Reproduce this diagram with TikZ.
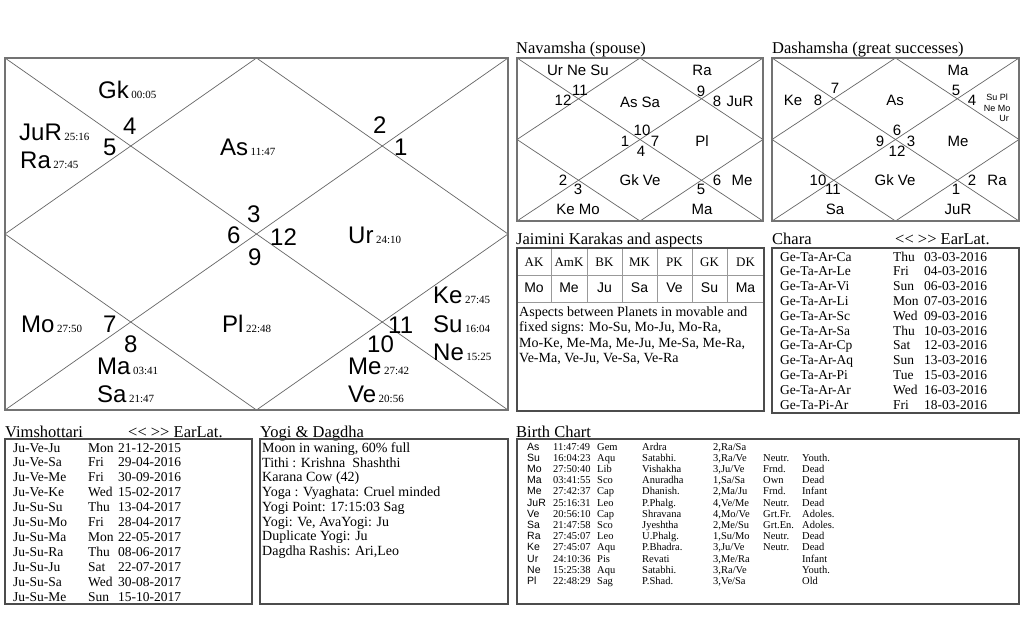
\documentclass[tikz,border=0pt]{standalone}
\usepackage{fontspec}
\setmainfont{Liberation Serif}
\newfontfamily\arial{Liberation Sans}
\newcommand{\fsz}[1]{\fontsize{#1}{#1}\selectfont}
\newcommand{\dgr}[1]{\hspace{2.5pt}{\rmfamily\fsz{11}#1}}
\newcommand{\vrow}[3]{\makebox[75pt][l]{#1}\makebox[30pt][l]{#2}#3}
\newcommand{\crow}[3]{\makebox[113pt][l]{#1}\makebox[31pt][l]{#2}#3}
\newcommand{\brow}[7]{\makebox[26pt][l]{\arial #1}\makebox[44pt][l]{#2}\makebox[45pt][l]{#3}\makebox[71pt][l]{#4}\makebox[50pt][l]{#5}\makebox[39pt][l]{#6}#7}

\begin{document}
\begin{tikzpicture}[x=1pt,y=-1pt,
  chline/.style={black!60,line width=.7pt},
  frame/.style={draw=black!55,line width=2pt},
  box/.style={draw=black!70,line width=1.1pt},
  cell/.style={draw=black!40,line width=.8pt},
  big/.style={font=\arial\fsz{24},inner sep=0pt,anchor=base west},
  lbl/.style={font=\arial\fsz{15},inner sep=0pt},
  tiny/.style={font=\arial\fsz{9},inner sep=0pt},
  title/.style={font=\fsz{16.5},inner sep=0pt,anchor=base west},
  txt/.style={font=\fsz{13.5},inner sep=0pt,anchor=base west},
  yogi/.style={font=\fsz{14},inner sep=0pt,anchor=base west},
  small/.style={font=\fsz{10.5},inner sep=0pt,anchor=base west}]
\fill[white] (0,0) rectangle (1024,640);
\useasboundingbox (0,0) rectangle (1024,640);
% Rasi chart
\draw[chline] (5,58) -- (508,410);
\draw[chline] (5,410) -- (508,58);
\draw[chline] (256.5,58) -- (508,234) -- (256.5,410) -- (5,234) -- cycle;
\draw[frame] (5,58) rectangle (508,410);
\node[big] (gk) at (98,98) {Gk\dgr{00:05}};
\node[big] (h4) at (123,134) {4};
\node[big] (jur) at (19,140) {JuR\dgr{25:16}};
\node[big] (h5) at (103,155) {5};
\node[big] (ra) at (20,168) {Ra\dgr{27:45}};
\node[big] (as) at (220,155) {As\dgr{11:47}};
\node[big] (h2) at (373,133) {2};
\node[big] (h1) at (394,155) {1};
\node[big] (h3) at (247,222) {3};
\node[big] (h6) at (227,243) {6};
\node[big] (h12) at (270,245) {12};
\node[big] (h9) at (248,265) {9};
\node[big] (ur) at (348,243) {Ur\dgr{24:10}};
\node[big] (mo) at (21,332) {Mo\dgr{27:50}};
\node[big] (h7) at (103,332) {7};
\node[big] (pl) at (222,332) {Pl\dgr{22:48}};
\node[big] (h11) at (388,333) {11};
\node[big] (h8) at (124,352) {8};
\node[big] (h10) at (367,352) {10};
\node[big] (ke) at (433,303) {Ke\dgr{27:45}};
\node[big] (su) at (433,332) {Su\dgr{16:04}};
\node[big] (ne) at (433,360) {Ne\dgr{15:25}};
\node[big] (ma) at (97,374) {Ma\dgr{03:41}};
\node[big] (sa) at (97,402) {Sa\dgr{21:47}};
\node[big] (me) at (348,374) {Me\dgr{27:42}};
\node[big] (ve) at (348,402) {Ve\dgr{20:56}};
% Navamsha
\node[title] (navt) at (516,53) {Navamsha (spouse)};
\draw[chline] (517,58) -- (763,221);
\draw[chline] (517,221) -- (763,58);
\draw[chline] (640,58) -- (763,139.5) -- (640,221) -- (517,139.5) -- cycle;
\draw[frame] (517,58) rectangle (763,221);
\node[lbl] (n-urnesu) at (578,70) {Ur Ne Su};
\node[lbl] (n-ra) at (702,70) {Ra};
\node[lbl] (n11) at (580,90) {11};
\node[lbl] (n12) at (563,100) {12};
\node[lbl] (n-assa) at (640,102) {As Sa};
\node[lbl] (n9) at (701,91) {9};
\node[lbl] (n8) at (717,101) {8};
\node[lbl] (n-jur) at (740,101) {JuR};
\node[lbl] (n10) at (642,130) {10};
\node[lbl] (n1) at (625,141) {1};
\node[lbl] (n7) at (655,141) {7};
\node[lbl] (n4) at (641,151) {4};
\node[lbl] (n-pl) at (702,141) {Pl};
\node[lbl] (n2) at (563,180) {2};
\node[lbl] (n3) at (578,189) {3};
\node[lbl] (n-gkve) at (640,180) {Gk Ve};
\node[lbl] (n6) at (717,180) {6};
\node[lbl] (n-me) at (742,180) {Me};
\node[lbl] (n5) at (701,189) {5};
\node[lbl] (n-kemo) at (578,209) {Ke Mo};
\node[lbl] (n-ma) at (702,209) {Ma};
% Dashamsha
\node[title] (dast) at (772,53) {Dashamsha (great successes)};
\draw[chline] (772,58) -- (1019,221);
\draw[chline] (772,221) -- (1019,58);
\draw[chline] (895.5,58) -- (1019,139.5) -- (895.5,221) -- (772,139.5) -- cycle;
\draw[frame] (772,58) rectangle (1019,221);
\node[lbl] (d-ma) at (958,70) {Ma};
\node[lbl] (d7) at (835,88) {7};
\node[lbl] (d-ke) at (793,100) {Ke};
\node[lbl] (d8) at (818,100) {8};
\node[lbl] (d-as) at (895,100) {As};
\node[lbl] (d5) at (956,90) {5};
\node[lbl] (d4) at (972,100) {4};
\node[tiny] (d-supl) at (997,97) {Su Pl};
\node[tiny] (d-nemo) at (997,108) {Ne Mo};
\node[tiny] (d-ur) at (1004,118) {Ur};
\node[lbl] (d6) at (897,130) {6};
\node[lbl] (d9) at (880,141) {9};
\node[lbl] (d3) at (911,141) {3};
\node[lbl] (d12) at (897,151) {12};
\node[lbl] (d-me) at (958,141) {Me};
\node[lbl] (d10) at (818,180) {10};
\node[lbl] (d11) at (833,189) {11};
\node[lbl] (d-gkve) at (895,180) {Gk Ve};
\node[lbl] (d2) at (972,180) {2};
\node[lbl] (d-ra) at (997,180) {Ra};
\node[lbl] (d1) at (956,189) {1};
\node[lbl] (d-sa) at (835,209) {Sa};
\node[lbl] (d-jur) at (958,209) {JuR};
% Jaimini karakas
\node[title] (jait) at (516,244) {Jaimini Karakas and aspects};
\draw[cell] (517,275) -- (764,275);
\draw[cell] (517,302) -- (764,302);
\draw[cell] (551,248) -- (551,302);
\draw[cell] (587,248) -- (587,302);
\draw[cell] (622,248) -- (622,302);
\draw[cell] (657,248) -- (657,302);
\draw[cell] (692,248) -- (692,302);
\draw[cell] (727,248) -- (727,302);
\draw[box] (517,248) rectangle (764,411);
\node[font=\fsz{13}] (k-ak) at (534,262) {AK};
\node[font=\fsz{13}] (k-amk) at (569,262) {AmK};
\node[font=\fsz{13}] (k-bk) at (604.5,262) {BK};
\node[font=\fsz{13}] (k-mk) at (639.5,262) {MK};
\node[font=\fsz{13}] (k-pk) at (674.5,262) {PK};
\node[font=\fsz{13}] (k-gk) at (709.5,262) {GK};
\node[font=\fsz{13}] (k-dk) at (745.5,262) {DK};
\node[font=\arial\fsz{14}] (v-ak) at (534,288) {Mo};
\node[font=\arial\fsz{14}] (v-amk) at (569,288) {Me};
\node[font=\arial\fsz{14}] (v-bk) at (604.5,288) {Ju};
\node[font=\arial\fsz{14}] (v-mk) at (639.5,288) {Sa};
\node[font=\arial\fsz{14}] (v-pk) at (674.5,288) {Ve};
\node[font=\arial\fsz{14}] (v-gk) at (709.5,288) {Su};
\node[font=\arial\fsz{14}] (v-dk) at (745.5,288) {Ma};
\node[yogi] (asp1) at (519,316) {Aspects between Planets in movable and};
\node[yogi] (asp2) at (519,331.5) {fixed signs: Mo-Su, Mo-Ju, Mo-Ra,};
\node[yogi] (asp3) at (519,347) {Mo-Ke, Me-Ma, Me-Ju, Me-Sa, Me-Ra,};
\node[yogi] (asp4) at (519,362.5) {Ve-Ma, Ve-Ju, Ve-Sa, Ve-Ra};
% Chara
\node[title] (chat) at (772,244) {Chara};
\node[title] (chanav) at (895,244) {<{}< >{}> EarLat.};
\draw[box] (772,248) rectangle (1019,413);
\node[txt] (c1) at (780,261) {\crow{Ge-Ta-Ar-Ca}{Thu}{03-03-2016}};
\node[txt] (c2) at (780,275.8) {\crow{Ge-Ta-Ar-Le}{Fri}{04-03-2016}};
\node[txt] (c3) at (780,290.6) {\crow{Ge-Ta-Ar-Vi}{Sun}{06-03-2016}};
\node[txt] (c4) at (780,305.4) {\crow{Ge-Ta-Ar-Li}{Mon}{07-03-2016}};
\node[txt] (c5) at (780,320.2) {\crow{Ge-Ta-Ar-Sc}{Wed}{09-03-2016}};
\node[txt] (c6) at (780,335) {\crow{Ge-Ta-Ar-Sa}{Thu}{10-03-2016}};
\node[txt] (c7) at (780,349.8) {\crow{Ge-Ta-Ar-Cp}{Sat}{12-03-2016}};
\node[txt] (c8) at (780,364.6) {\crow{Ge-Ta-Ar-Aq}{Sun}{13-03-2016}};
\node[txt] (c9) at (780,379.4) {\crow{Ge-Ta-Ar-Pi}{Tue}{15-03-2016}};
\node[txt] (c10) at (780,394.2) {\crow{Ge-Ta-Ar-Ar}{Wed}{16-03-2016}};
\node[txt] (c11) at (780,409) {\crow{Ge-Ta-Pi-Ar}{Fri}{18-03-2016}};
% Vimshottari
\node[title] (vimt) at (5,437) {Vimshottari};
\node[title] (vimnav) at (128,437) {<{}< >{}> EarLat.};
\draw[box] (5,439) rectangle (252,604);
\node[txt] (v1) at (13,452) {\vrow{Ju-Ve-Ju}{Mon}{21-12-2015}};
\node[txt] (v2) at (13,466.9) {\vrow{Ju-Ve-Sa}{Fri}{29-04-2016}};
\node[txt] (v3) at (13,481.8) {\vrow{Ju-Ve-Me}{Fri}{30-09-2016}};
\node[txt] (v4) at (13,496.7) {\vrow{Ju-Ve-Ke}{Wed}{15-02-2017}};
\node[txt] (v5) at (13,511.6) {\vrow{Ju-Su-Su}{Thu}{13-04-2017}};
\node[txt] (v6) at (13,526.5) {\vrow{Ju-Su-Mo}{Fri}{28-04-2017}};
\node[txt] (v7) at (13,541.4) {\vrow{Ju-Su-Ma}{Mon}{22-05-2017}};
\node[txt] (v8) at (13,556.3) {\vrow{Ju-Su-Ra}{Thu}{08-06-2017}};
\node[txt] (v9) at (13,571.2) {\vrow{Ju-Su-Ju}{Sat}{22-07-2017}};
\node[txt] (v10) at (13,586.1) {\vrow{Ju-Su-Sa}{Wed}{30-08-2017}};
\node[txt] (v11) at (13,601) {\vrow{Ju-Su-Me}{Sun}{15-10-2017}};
% Yogi & Dagdha
\node[title] (yogt) at (260,437) {Yogi \& Dagdha};
\draw[box] (260,439) rectangle (508,604);
\node[yogi] (y1) at (262,452.5) {Moon in waning, 60\% full};
\node[yogi] (y2) at (262,467.2) {Tithi : Krishna\ \ Shashthi};
\node[yogi] (y3) at (262,481.9) {Karana Cow (42)};
\node[yogi] (y4) at (262,496.6) {Yoga : Vyaghata: Cruel minded};
\node[yogi] (y5) at (262,511.3) {Yogi Point: 17:15:03 Sag};
\node[yogi] (y6) at (262,526) {Yogi: Ve, AvaYogi: Ju};
\node[yogi] (y7) at (262,540.7) {Duplicate Yogi: Ju};
\node[yogi] (y8) at (262,555.4) {Dagdha Rashis: Ari,Leo};
% Birth chart
\node[title] (birt) at (516,437) {Birth Chart};
\draw[box] (517,439) rectangle (1019,604);
\node[small] (b1) at (527,450) {\brow{As}{11:47:49}{Gem}{Ardra}{2,Ra/Sa}{}{}};
\node[small] (b2) at (527,461.2) {\brow{Su}{16:04:23}{Aqu}{Satabhi.}{3,Ra/Ve}{Neutr.}{Youth.}};
\node[small] (b3) at (527,472.4) {\brow{Mo}{27:50:40}{Lib}{Vishakha}{3,Ju/Ve}{Frnd.}{Dead}};
\node[small] (b4) at (527,483.6) {\brow{Ma}{03:41:55}{Sco}{Anuradha}{1,Sa/Sa}{Own}{Dead}};
\node[small] (b5) at (527,494.8) {\brow{Me}{27:42:37}{Cap}{Dhanish.}{2,Ma/Ju}{Frnd.}{Infant}};
\node[small] (b6) at (527,506) {\brow{JuR}{25:16:31}{Leo}{P.Phalg.}{4,Ve/Me}{Neutr.}{Dead}};
\node[small] (b7) at (527,517.2) {\brow{Ve}{20:56:10}{Cap}{Shravana}{4,Mo/Ve}{Grt.Fr.}{Adoles.}};
\node[small] (b8) at (527,528.4) {\brow{Sa}{21:47:58}{Sco}{Jyeshtha}{2,Me/Su}{Grt.En.}{Adoles.}};
\node[small] (b9) at (527,539.6) {\brow{Ra}{27:45:07}{Leo}{U.Phalg.}{1,Su/Mo}{Neutr.}{Dead}};
\node[small] (b10) at (527,550.8) {\brow{Ke}{27:45:07}{Aqu}{P.Bhadra.}{3,Ju/Ve}{Neutr.}{Dead}};
\node[small] (b11) at (527,562) {\brow{Ur}{24:10:36}{Pis}{Revati}{3,Me/Ra}{}{Infant}};
\node[small] (b12) at (527,573.2) {\brow{Ne}{15:25:38}{Aqu}{Satabhi.}{3,Ra/Ve}{}{Youth.}};
\node[small] (b13) at (527,584.4) {\brow{Pl}{22:48:29}{Sag}{P.Shad.}{3,Ve/Sa}{}{Old}};
\end{tikzpicture}
\end{document}
